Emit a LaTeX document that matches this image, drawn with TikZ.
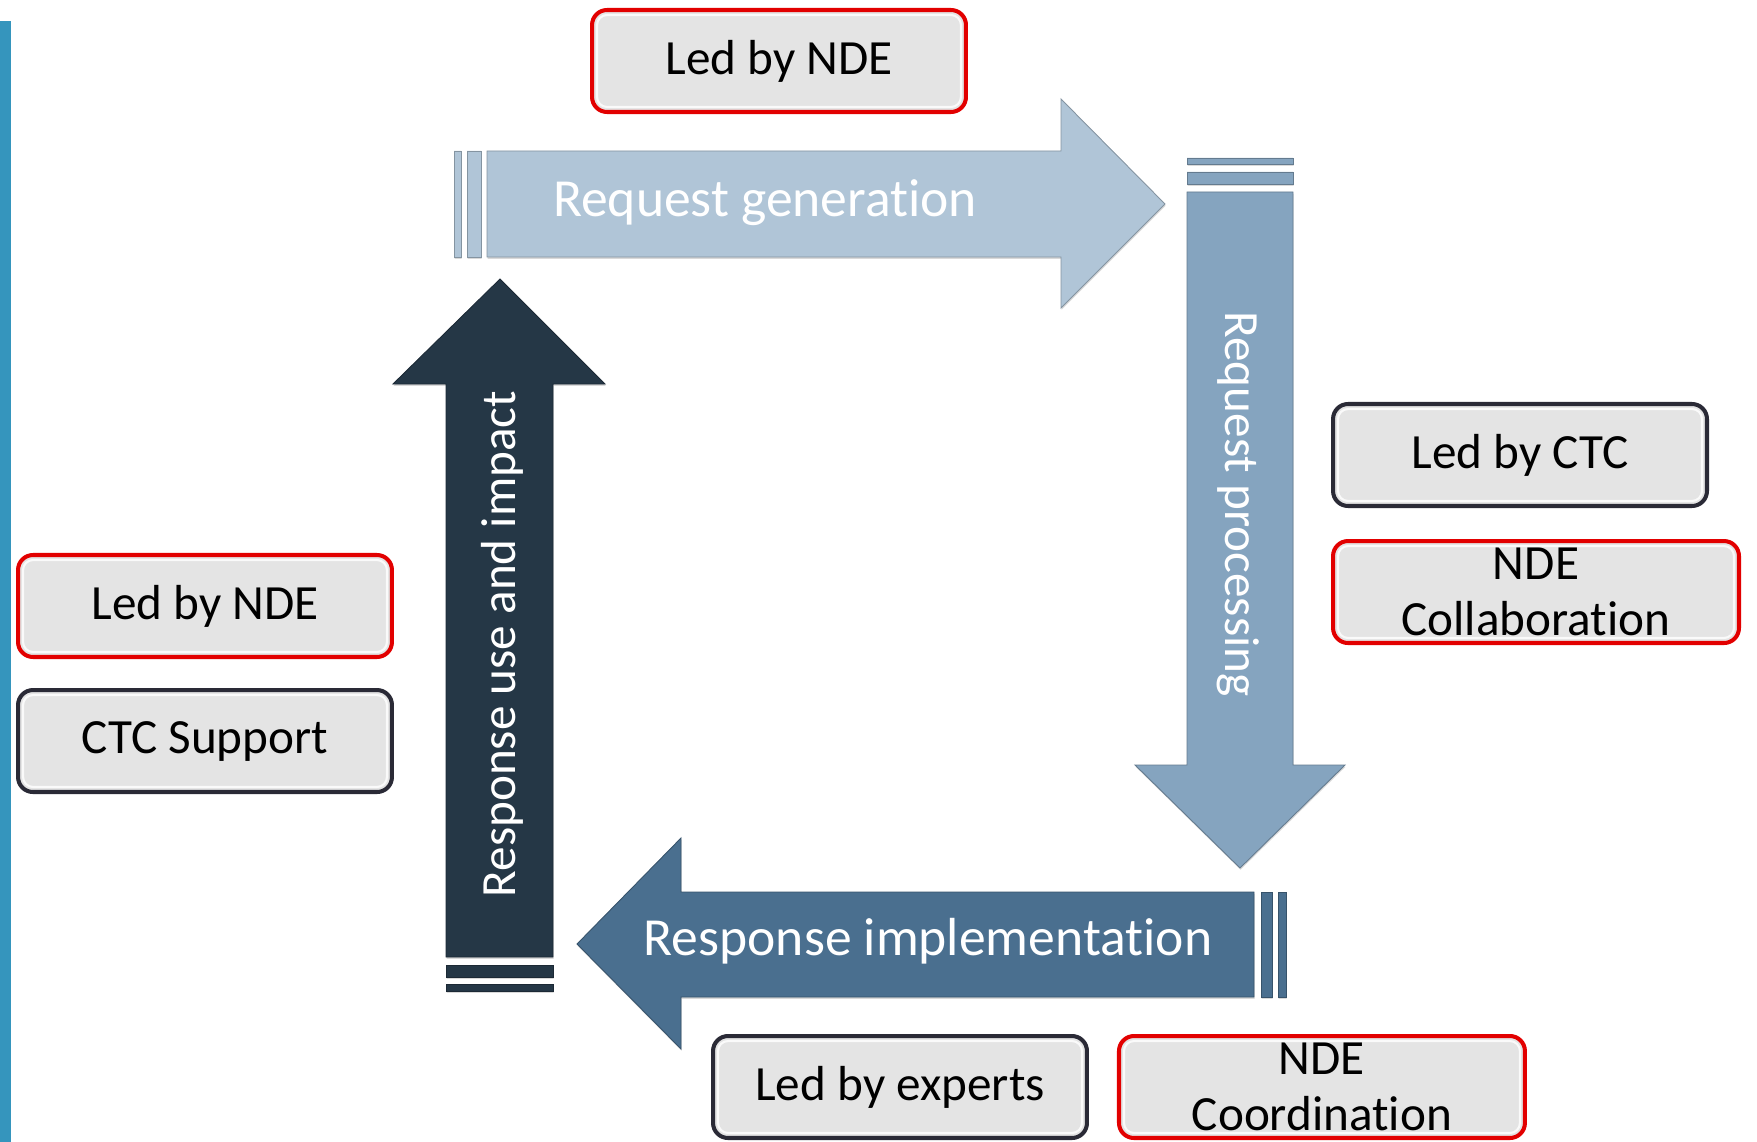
\documentclass[tikz,border=0pt]{standalone}
\usepackage{fontspec}
\setmainfont[Ligatures=NoCommon]{Carlito}
\usepackage{xcolor}
\usetikzlibrary{positioning,shadows}

\definecolor{sidebar}{HTML}{3595BD}
\definecolor{genblue}{HTML}{B0C5D7}
\definecolor{procblue}{HTML}{85A4BF}
\definecolor{implblue}{HTML}{4A6F8F}
\definecolor{usenavy}{HTML}{253746}
\definecolor{boxgray}{HTML}{E4E4E4}
\definecolor{ndered}{HTML}{E20000}
\definecolor{ctcdark}{HTML}{2A2A36}

\tikzset{
  flow/.style={fill=#1, draw=#1!75!black, line width=0.5pt,
    drop shadow={opacity=0.3, shadow xshift=0.3pt, shadow yshift=-1pt}},
  flowtext/.style={text=white, font=\fontsize{30.5}{36}\selectfont},
  sidetext/.style={text=white, font=\fontsize{28}{32}\selectfont},
  shine/.style={draw=white, line width=1.2pt, rounded corners=0.2cm, opacity=0.85},
  rolebox/.style={draw=#1, fill=boxgray, line width=2.3pt, rounded corners=0.3cm,
    minimum width=7.48cm, minimum height=2.04cm, inner sep=0pt, align=center,
    font=\fontsize{28}{32}\selectfont,
    path picture={\draw[shine] ([shift={(0.1cm,0.1cm)}]path picture bounding box.south west)
      rectangle ([shift={(-0.1cm,-0.1cm)}]path picture bounding box.north east);}},
  widebox/.style={rolebox=#1, minimum width=8.12cm}
}

\begin{document}
\begin{tikzpicture}[x=0.02cm, y=-0.02cm]
\useasboundingbox (0,0) rectangle (1757,1142);
% side stripe
\fill[sidebar] (0,21) rectangle (11,1142);

% request generation
\draw[flow=genblue] (454,151) rectangle (461,257) (467,151) rectangle (481,257);
\draw[flow=genblue] (487,151) -- (1061,151) -- (1061,99) -- (1165,204) -- (1061,308)
  -- (1061,257) -- (487,257) -- cycle;
\node[flowtext] (reqGen) at (765,203) {Request generation};

% request processing
\draw[flow=procblue] (1187,158) rectangle (1293,164) (1187,172) rectangle (1293,184);
\draw[flow=procblue] (1187,192) -- (1293,192) -- (1293,765) -- (1345,765) -- (1240,868)
  -- (1135,765) -- (1187,765) -- cycle;
\node[sidetext, rotate=-90] (reqProc) at (1238,504) {Request processing};

% response implementation
\draw[flow=implblue] (1261,892) rectangle (1272,997) (1278,892) rectangle (1286,997);
\draw[flow=implblue] (1254,892) -- (681,892) -- (681,838) -- (577,944) -- (681,1049)
  -- (681,997) -- (1254,997) -- cycle;
\node[flowtext] (respImpl) at (928,941) {Response implementation};

% response use and impact
\draw[flow=usenavy] (446,965) rectangle (553,977) (446,984) rectangle (553,991);
\draw[flow=usenavy] (446,957) -- (446,384) -- (393,384) -- (500,279) -- (605,384)
  -- (553,384) -- (553,957) -- cycle;
\node[sidetext, rotate=90] (respUse) at (502,644) {Response use and impact};

% who leads each step
\node[rolebox=ndered] (ndeTop) at (779,61) {Led by NDE};
\node[rolebox=ctcdark] (ctcLead) at (1520,455) {Led by CTC};
\node[widebox=ndered, below=0.62cm of ctcLead.south west, anchor=north west] (ndeCollab) {NDE\\Collaboration};
\node[rolebox=ndered] (ndeLeft) at (205,606) {Led by NDE};
\node[rolebox=ctcdark, below=0.58cm of ndeLeft] (ctcSupport) {CTC Support};
\node[rolebox=ctcdark] (expertLead) at (900,1087) {Led by experts};
\node[widebox=ndered, right=0.56cm of expertLead] (ndeCoord) {NDE\\Coordination};
\end{tikzpicture}
\end{document}
